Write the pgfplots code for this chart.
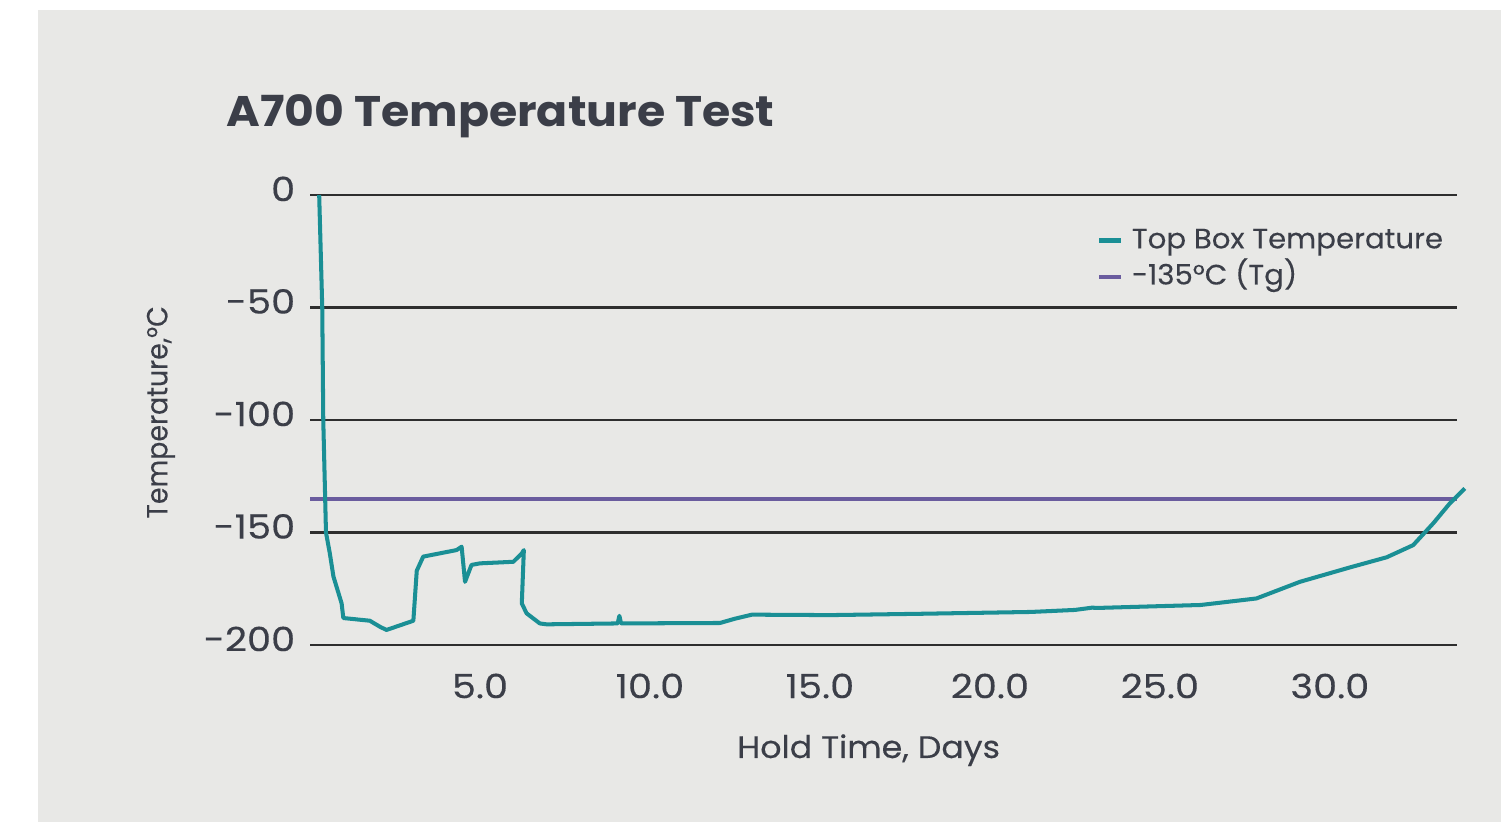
\documentclass[border=0pt]{standalone}
\usepackage{fontspec}
\setmainfont{Poppins}
\newfontfamily\tickf{Poppins}[FakeStretch=1.15, FakeBold=0.3]
\newfontfamily\labf{Poppins}[FakeStretch=1.07, FakeBold=0.2]
\newfontfamily\legf{Poppins}[FakeStretch=1.04, FakeBold=0.2]
\newfontfamily\ylabf{Poppins}[FakeStretch=0.92, FakeBold=0.2]
\newfontfamily\titf{Poppins}[FakeStretch=1.07]
\usepackage{pgfplots}
\pgfplotsset{compat=1.18}
\definecolor{bgc}{HTML}{E8E8E6}
\definecolor{tealc}{HTML}{1A8F95}
\definecolor{purpc}{HTML}{6A5C9E}
\definecolor{txtc}{HTML}{3B3E48}
\definecolor{gridc}{HTML}{2E2E2E}
\begin{document}
\begin{tikzpicture}
\useasboundingbox (-111.53pt,-63.68pt) rectangle (428.47pt,232.05pt);
\fill[white] (-111.53pt,-63.68pt) rectangle (428.47pt,232.05pt);
\fill[bgc] (-97.85pt,-63.68pt) rectangle (428.47pt,228.45pt);
\node[anchor=base west, font=\titf\fontsize{15.4}{18}\selectfont\bfseries, text=txtc, inner sep=0pt] at (-30.2pt,186.4pt) {A700 Temperature Test};
\begin{axis}[
  at={(0,0)}, anchor=south west,
  scale only axis, width=412.65pt, height=161.89pt,
  xmin=0, xmax=33.74, ymin=-200, ymax=0,
  clip=false,
  axis line style={draw=none},
  major tick length=0pt,
  xtick={5,10,15,20,25,30},
  ytick={-200,-150,-100,-50,0},
  ymajorgrids,
  grid style={gridc, line width=1pt},
  /pgf/number format/assume math mode=true,
  xticklabel style={/pgf/number format/.cd, fixed, fixed zerofill, precision=1, /tikz/.cd,
    anchor=center, yshift=-14.75pt, font=\tickf\fontsize{12}{14}\selectfont, text=txtc},
  yticklabel style={anchor=east, xshift=-1.8pt, yshift=2.2pt, font=\tickf\fontsize{12}{14}\selectfont, text=txtc},
  xlabel={Hold Time, Days},
  ylabel={Temperature,°C},
  xlabel style={at={(axis description cs:0.487,-0.251)}, anchor=base, font=\labf\fontsize{11.2}{13}\selectfont, text=txtc, inner sep=0pt},
  ylabel style={at={(axis description cs:-0.130,0.517)}, anchor=center, rotate=0, font=\ylabf\fontsize{10.5}{13}\selectfont, text=txtc, inner sep=0pt},
  legend style={at={(axis description cs:0.686,0.934)}, anchor=north west, draw=none, fill=none,
    inner sep=0pt, outer sep=0pt, font=\legf\fontsize{10.1}{12}\selectfont, text=txtc,
    nodes={inner sep=1pt, text height=7.5pt, text depth=2pt}, row sep=1.5pt, column sep=2pt},
  legend cell align=left,
  legend image code/.code={\draw[#1, line width=1.6pt] (0pt,0pt) -- (8pt,0pt);},
]
\addplot[purpc, line width=1.3pt, forget plot] coordinates {(0,-135) (33.74,-135)};
\addplot[tealc, line width=1.45pt, line join=round] coordinates {
(0.27,0) (0.36,-50) (0.39,-100) (0.47,-150) (0.58,-159) (0.69,-169.6) (0.93,-181.5) (0.98,-188)
(1.76,-189.2) (2.06,-191.9) (2.25,-193.3) (3.04,-189.2) (3.14,-167) (3.33,-160.7)
(4.31,-157.8) (4.46,-156.3) (4.56,-171.9) (4.75,-164.4) (5.0,-163.7) (5.98,-163)
(6.23,-159.3) (6.29,-157.8) (6.23,-181.5) (6.37,-185.9) (6.76,-190.4) (6.96,-190.8)
(9.05,-190.4) (9.1,-187) (9.15,-190.4) (12.06,-190.2) (12.5,-188.3) (13.0,-186.5)
(15.3,-186.7) (18.0,-186.1) (21.2,-185.3) (22.5,-184.4) (23.0,-183.4) (23.2,-183.5)
(26.2,-182.2) (27.84,-179.3) (29.12,-171.9) (30.59,-165.5) (31.67,-161) (32.45,-155.6)
(33.04,-145.9) (33.53,-137) (33.97,-130.4)};
\addlegendentry{Top Box Temperature}
\addlegendimage{purpc, line width=1.3pt}
\addlegendentry{-135°C (Tg)}
\end{axis}
\end{tikzpicture}
\end{document}
